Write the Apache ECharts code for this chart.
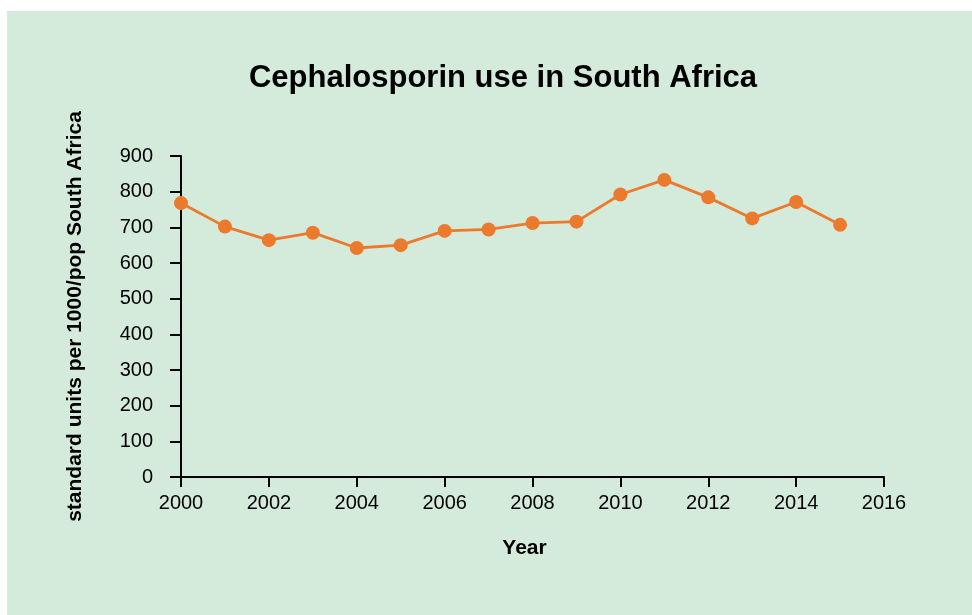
<!DOCTYPE html>
<html>
<head>
<meta charset="utf-8">
<script src="https://cdn.jsdelivr.net/npm/echarts@6/dist/echarts.min.js"></script>
<style>
  html, body { margin: 0; padding: 0; background: #ffffff; }
  #chart { width: 972px; height: 615px; }
</style>
</head>
<body>
<div id="chart"></div>
<script>
// Cephalosporin use, standard units per 1000 population, South Africa
const years = [2000, 2001, 2002, 2003, 2004, 2005, 2006, 2007, 2008, 2009, 2010, 2011, 2012, 2013, 2014, 2015];
const usage = [768, 702, 664, 685, 642, 650, 690, 694, 712, 716, 792, 833, 784, 725, 771, 707];
const xTicks = [2000, 2016, 2];   // min, max, step
const yTicks = [0, 900, 100];     // min, max, step

const FONT = '"Liberation Sans", Arial, sans-serif';
const chart = echarts.init(document.getElementById('chart'), null, { renderer: 'canvas' });

chart.setOption({
  backgroundColor: '#ffffff',
  animation: false,
  graphic: [{
    type: 'rect',
    left: 7, top: 11,
    shape: { width: 965, height: 604 },
    style: { fill: '#d4eadb' },
    z: -10
  }],
  title: {
    text: 'Cephalosporin use in South Africa',
    left: 498, top: 58, textAlign: 'center',
    textStyle: { fontFamily: FONT, fontSize: 31, fontWeight: 'bold', color: '#000' }
  },
  grid: { left: 181, right: 88, top: 156, bottom: 138, containLabel: false },
  xAxis: {
    type: 'value',
    min: xTicks[0], max: xTicks[1], interval: xTicks[2],
    name: 'Year', nameLocation: 'middle', nameGap: 61,
    nameTextStyle: { fontFamily: FONT, fontSize: 21, fontWeight: 'bold', color: '#000', padding: [0, 16, 0, 0] },
    axisLine: { show: true, lineStyle: { color: '#000', width: 2 } },
    axisTick: { show: true, length: 10, lineStyle: { color: '#000', width: 2 } },
    axisLabel: { fontFamily: FONT, fontSize: 20, color: '#000', margin: 16, formatter: v => String(v) },
    splitLine: { show: false }
  },
  yAxis: {
    type: 'value',
    min: yTicks[0], max: yTicks[1], interval: yTicks[2],
    name: 'standard units per 1000/pop South Africa', nameLocation: 'middle', nameGap: 95,
    nameTextStyle: { fontFamily: FONT, fontSize: 21, fontWeight: 'bold', color: '#000' },
    axisLine: { show: true, lineStyle: { color: '#000', width: 2 } },
    axisTick: { show: true, length: 11, lineStyle: { color: '#000', width: 2 } },
    axisLabel: { fontFamily: FONT, fontSize: 20, color: '#000', margin: 28, formatter: v => String(v) },
    splitLine: { show: false }
  },
  series: [{
    type: 'line',
    data: years.map((y, i) => [y, usage[i]]),
    symbol: 'circle', symbolSize: 14,
    lineStyle: { color: '#ec7a2d', width: 2.8 },
    itemStyle: { color: '#ec7a2d' },
    clip: false
  }]
});
</script>
</body>
</html>
